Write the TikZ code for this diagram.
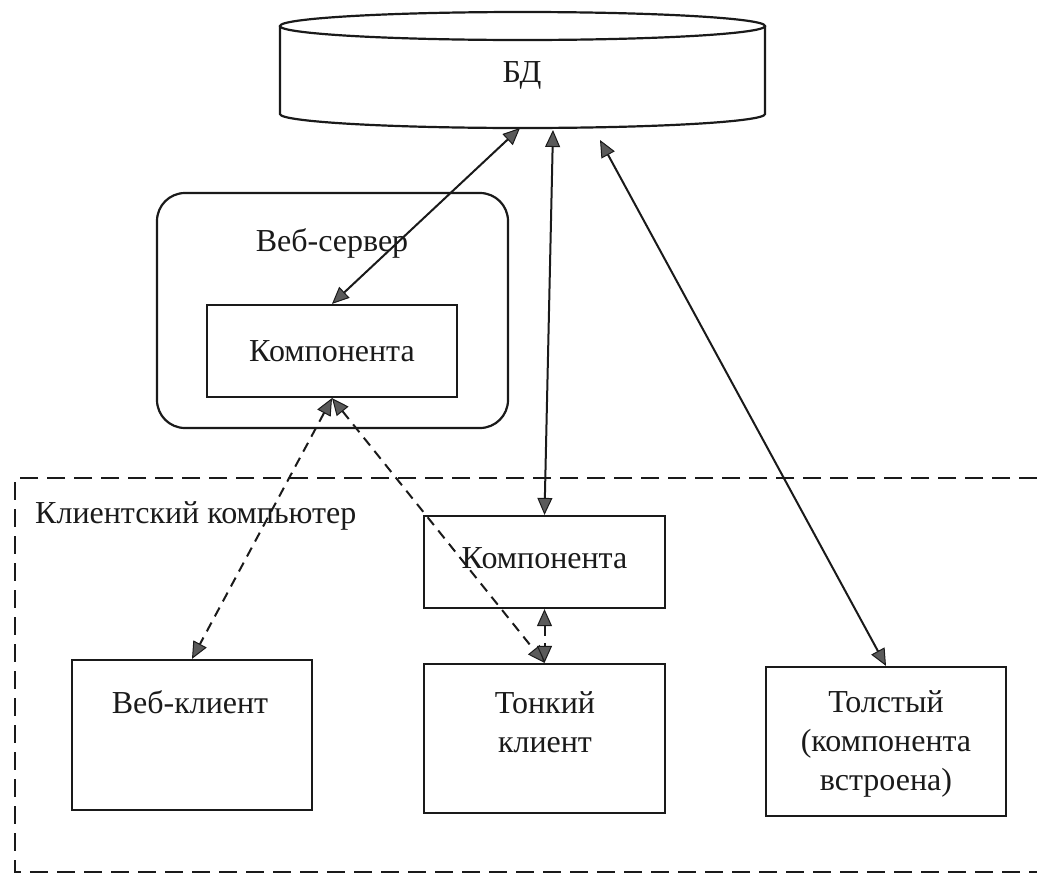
\documentclass[tikz,border=0pt]{standalone}
\usepackage{fontspec}
\setmainfont{Liberation Serif}
\newfontfamily\diagfont{Liberation Serif}
\usetikzlibrary{arrows.meta}
\definecolor{ink}{HTML}{1A1A1A}
\definecolor{headgray}{HTML}{5A5A5A}
\begin{document}
\begin{tikzpicture}[x=1pt,y=-1pt,
  every node/.style={font=\diagfont\fontsize{32pt}{39pt}\selectfont, text=ink},
  box/.style={draw=ink, line width=2.2pt, fill=white, inner sep=0pt},
  txt/.style={inner sep=0pt, align=center},
  conn/.style={draw=ink, line width=2pt,
    {Triangle[length=17pt,width=15pt,fill=headgray,line width=1pt]}-{Triangle[length=17pt,width=15pt,fill=headgray,line width=1pt]}},
  dconn/.style={conn, dash pattern=on 10pt off 7pt},
  border/.style={draw=ink, line width=2.2pt, dash pattern=on 18pt off 9pt}]
\useasboundingbox (0,0) rectangle (1037,879);

% Database cylinder
\draw[draw=ink, line width=2.2pt, fill=white]
  (280,26) -- (280,114) arc[start angle=180, end angle=360, x radius=242.5pt, y radius=14pt] -- (765,26);
\draw[draw=ink, line width=2.2pt, fill=white] (522.5,26) ellipse [x radius=242.5pt, y radius=14pt];
\node[txt] (db) at (522,75) {БД};
\coordinate (dbA) at (520,128);
\coordinate (dbB) at (553,130);
\coordinate (dbC) at (600,140);

% Web server
\node[box, rounded corners=28pt, minimum width=351pt, minimum height=235pt] (ws) at (332.5,310.5) {};
\node[txt] (wslabel) at (332,243) {Веб-сервер};
\node[box, minimum width=250pt, minimum height=92pt] (wcomp) at (332,351) {};
\node[txt] (wcomplabel) at (332,351) {Компонента};

% Client computer (dashed region)
\draw[border] (1037,478) -- (15,478) -- (15,872) -- (1037,872);
\node[txt, anchor=west] (cclabel) at (35,516) {Клиентский компьютер};

\node[box, minimum width=241pt, minimum height=92pt] (ccomp) at (544.5,562) {};
\node[txt] (ccomplabel) at (544.5,558) {Компонента};

\node[box, minimum width=240pt, minimum height=150pt] (webcl) at (192,735) {};
\node[txt] (webcllabel) at (190,702) {Веб-клиент};

\node[box, minimum width=241pt, minimum height=149pt] (thin) at (544.5,738.5) {};
\node[txt] (thinlabel) at (545,722) {Тонкий\\клиент};

\node[box, minimum width=240pt, minimum height=149pt] (thick) at (886,741.5) {};
\node[txt] (thicklabel) at (886,743.5) {Толстый\\(компонента\\встроена)};

% Connectors
\draw[conn] (dbA) -- (wcomp.north);
\draw[conn] (dbB) -- (ccomp.north);
\draw[conn] (dbC) -- (thick.north);
\draw[dconn] (wcomp.south) -- (webcl.north);
\draw[dconn] (wcomp.south) -- (thin.north);
\draw[dconn] (ccomp.south) -- (thin.north);
\end{tikzpicture}
\end{document}
